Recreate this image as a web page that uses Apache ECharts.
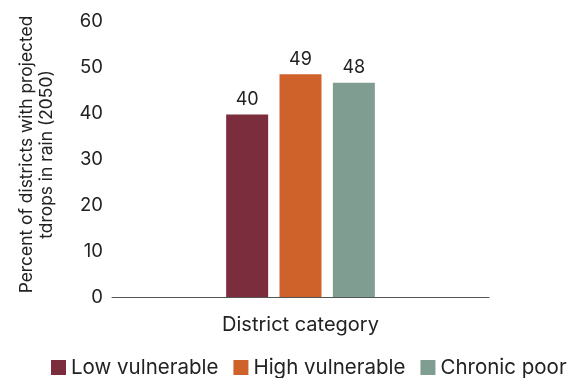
<!DOCTYPE html>
<html>
<head>
<meta charset="utf-8">
<script src="https://cdn.jsdelivr.net/npm/echarts@6/dist/echarts.min.js"></script>
<style>
  html, body { margin: 0; padding: 0; background: #fff; }
  #main { width: 575px; height: 378px; }
</style>
</head>
<body>
<div id="main"></div>
<script>
// data
var categories = ['District category'];
var seriesNames = ['Low vulnerable', 'High vulnerable', 'Chronic poor'];
var seriesValues = [39.7, 48.4, 46.6];
var seriesLabels = ['40', '49', '48'];
var colors = ['#7B2D3D', '#CF612B', '#809D92'];

var myChart = echarts.init(document.getElementById('main'));

var series = seriesNames.map(function (name, i) {
    return {
        name: name,
        type: 'bar',
        barWidth: 42,
        barGap: '27%',
        itemStyle: { color: colors[i] },
        label: {
            show: true,
            position: 'top',
            distance: 6,
            fontSize: 18,
            color: '#222',
            fontFamily: 'Inter',
            formatter: function () { return seriesLabels[i]; }
        },
        data: [seriesValues[i]]
    };
});

var option = {
    textStyle: { fontFamily: 'Inter' },
    grid: { left: 112, right: 86, top: 21, bottom: 81 },
    legend: {
        top: 352,
        left: 46,
        itemWidth: 15,
        itemHeight: 15,
        itemGap: 15,
        icon: 'rect',
        textStyle: { fontSize: 20.5, color: '#222', fontFamily: 'Inter' },
        data: seriesNames
    },
    xAxis: {
        type: 'category',
        data: categories,
        axisLine: { lineStyle: { color: '#555' } },
        axisTick: { show: false },
        axisLabel: { fontSize: 20, color: '#222', margin: 18 }
    },
    yAxis: {
        type: 'value',
        min: 0,
        max: 60,
        interval: 10,
        name: 'Percent of districts with projected\ntdrops in rain (2050)',
        nameLocation: 'middle',
        nameGap: 55,
        nameTextStyle: { fontSize: 17.4, color: '#222', lineHeight: 20, padding: [0, 0, 0, 9] },
        axisLine: { show: false },
        axisTick: { show: false },
        splitLine: { show: false },
        axisLabel: { fontSize: 18.5, color: '#222', margin: 9 }
    },
    series: series
};

myChart.setOption(option);
</script>
</body>
</html>
